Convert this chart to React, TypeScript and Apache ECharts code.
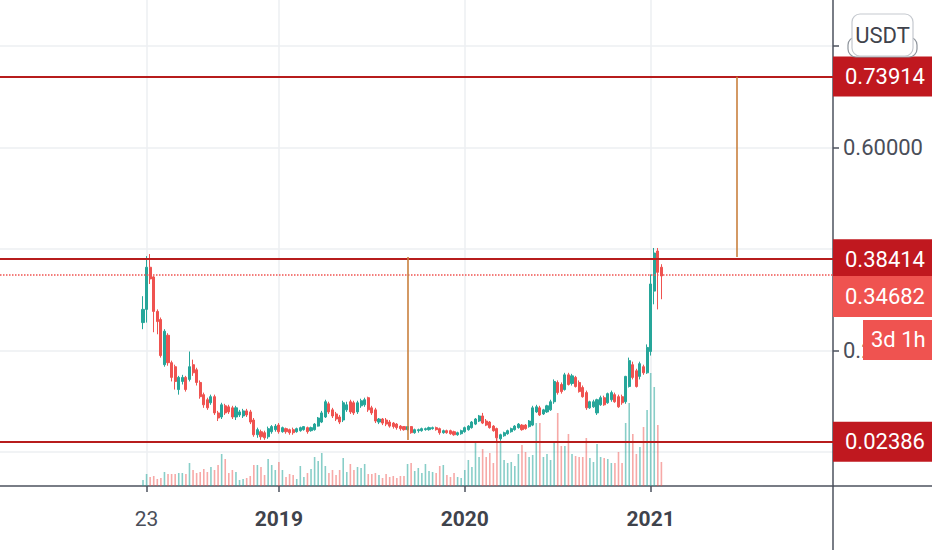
import React, { useEffect, useRef } from "react";
import * as echarts from "echarts";

// ---- categories: weekly bars ----
const weekCount = 234;
const firstWeekUTC = Date.UTC(2017, 6, 10); // Monday 2017-07-10
const firstCandleDate = "2018-04-16";
const tickLabels: Record<string, string> = {
  "2018-04-23": "23",
  "2019-01-07": "2019",
  "2020-01-06": "2020",
  "2021-01-04": "2021",
};

// ---- weekly candles [open, close, low, high] (USDT) ----
const ohlc: number[][] = [
  [0.255, 0.281, 0.242, 0.307], [0.281, 0.364, 0.255, 0.386], [0.364, 0.341, 0.331, 0.390], [0.345, 0.277, 0.236, 0.347],
  [0.277, 0.257, 0.232, 0.281], [0.261, 0.190, 0.186, 0.265], [0.172, 0.238, 0.168, 0.242], [0.230, 0.176, 0.170, 0.234],
  [0.176, 0.147, 0.139, 0.180], [0.168, 0.139, 0.123, 0.172], [0.123, 0.147, 0.113, 0.150], [0.139, 0.147, 0.133, 0.152],
  [0.147, 0.123, 0.119, 0.150], [0.143, 0.168, 0.139, 0.198], [0.172, 0.156, 0.150, 0.182], [0.162, 0.137, 0.131, 0.166],
  [0.137, 0.109, 0.105, 0.141], [0.113, 0.093, 0.087, 0.117], [0.103, 0.087, 0.083, 0.107], [0.097, 0.109, 0.093, 0.113],
  [0.109, 0.077, 0.073, 0.113], [0.077, 0.067, 0.061, 0.081], [0.069, 0.093, 0.065, 0.097], [0.091, 0.077, 0.073, 0.095],
  [0.089, 0.079, 0.075, 0.093], [0.087, 0.069, 0.065, 0.091], [0.069, 0.087, 0.063, 0.091], [0.073, 0.079, 0.069, 0.083],
  [0.071, 0.081, 0.067, 0.085], [0.081, 0.073, 0.069, 0.085], [0.079, 0.059, 0.055, 0.083], [0.063, 0.034, 0.030, 0.067],
  [0.034, 0.044, 0.028, 0.048], [0.040, 0.030, 0.024, 0.044], [0.038, 0.028, 0.024, 0.042], [0.030, 0.046, 0.026, 0.050],
  [0.040, 0.050, 0.036, 0.053], [0.044, 0.051, 0.040, 0.055], [0.053, 0.040, 0.036, 0.057], [0.040, 0.048, 0.038, 0.050],
  [0.046, 0.040, 0.036, 0.048], [0.044, 0.038, 0.034, 0.046], [0.044, 0.038, 0.034, 0.048], [0.040, 0.046, 0.038, 0.048],
  [0.042, 0.048, 0.040, 0.050], [0.044, 0.050, 0.042, 0.051], [0.048, 0.040, 0.036, 0.050], [0.042, 0.048, 0.040, 0.050],
  [0.044, 0.055, 0.042, 0.057], [0.051, 0.067, 0.050, 0.069], [0.059, 0.077, 0.057, 0.081], [0.069, 0.099, 0.067, 0.103],
  [0.095, 0.079, 0.075, 0.099], [0.083, 0.071, 0.067, 0.087], [0.075, 0.065, 0.061, 0.079], [0.069, 0.059, 0.055, 0.073],
  [0.063, 0.097, 0.059, 0.101], [0.083, 0.093, 0.079, 0.099], [0.099, 0.079, 0.075, 0.103], [0.097, 0.077, 0.073, 0.101],
  [0.079, 0.097, 0.075, 0.101], [0.091, 0.101, 0.087, 0.105], [0.093, 0.103, 0.089, 0.107], [0.107, 0.083, 0.079, 0.109],
  [0.087, 0.077, 0.073, 0.091], [0.083, 0.061, 0.057, 0.087], [0.059, 0.065, 0.055, 0.067], [0.065, 0.057, 0.053, 0.067],
  [0.063, 0.055, 0.051, 0.067], [0.059, 0.051, 0.048, 0.063], [0.057, 0.050, 0.046, 0.059], [0.055, 0.048, 0.044, 0.057],
  [0.051, 0.046, 0.042, 0.053], [0.050, 0.044, 0.042, 0.051], [0.044, 0.050, 0.042, 0.051], [0.050, 0.038, 0.036, 0.051],
  [0.038, 0.044, 0.036, 0.046], [0.042, 0.044, 0.038, 0.046], [0.042, 0.046, 0.040, 0.048], [0.044, 0.046, 0.042, 0.048],
  [0.044, 0.048, 0.042, 0.050], [0.046, 0.048, 0.044, 0.050], [0.048, 0.044, 0.042, 0.050], [0.046, 0.038, 0.034, 0.048],
  [0.038, 0.042, 0.036, 0.044], [0.042, 0.038, 0.036, 0.044], [0.042, 0.036, 0.034, 0.044], [0.040, 0.034, 0.032, 0.042],
  [0.034, 0.038, 0.032, 0.040], [0.036, 0.042, 0.034, 0.044], [0.040, 0.048, 0.038, 0.050], [0.044, 0.051, 0.042, 0.053],
  [0.048, 0.059, 0.046, 0.061], [0.055, 0.065, 0.053, 0.067], [0.061, 0.071, 0.059, 0.073], [0.071, 0.057, 0.055, 0.077],
  [0.061, 0.053, 0.051, 0.065], [0.059, 0.048, 0.046, 0.061], [0.051, 0.042, 0.040, 0.053], [0.046, 0.028, 0.018, 0.048],
  [0.026, 0.034, 0.022, 0.036], [0.032, 0.038, 0.030, 0.040], [0.036, 0.042, 0.034, 0.044], [0.040, 0.046, 0.038, 0.048],
  [0.044, 0.051, 0.042, 0.053], [0.048, 0.055, 0.046, 0.057], [0.053, 0.044, 0.042, 0.055], [0.053, 0.046, 0.044, 0.055],
  [0.050, 0.061, 0.048, 0.063], [0.053, 0.087, 0.051, 0.091], [0.079, 0.089, 0.077, 0.093], [0.087, 0.073, 0.071, 0.091],
  [0.075, 0.083, 0.073, 0.085], [0.079, 0.091, 0.077, 0.093], [0.083, 0.099, 0.081, 0.103], [0.099, 0.139, 0.095, 0.143],
  [0.137, 0.117, 0.113, 0.141], [0.133, 0.119, 0.115, 0.137], [0.123, 0.152, 0.121, 0.156], [0.152, 0.133, 0.131, 0.156],
  [0.135, 0.150, 0.131, 0.154], [0.147, 0.129, 0.127, 0.150], [0.137, 0.119, 0.117, 0.141], [0.127, 0.109, 0.107, 0.131],
  [0.117, 0.087, 0.083, 0.121], [0.087, 0.099, 0.085, 0.101], [0.089, 0.099, 0.087, 0.103], [0.077, 0.103, 0.073, 0.105],
  [0.093, 0.107, 0.091, 0.111], [0.107, 0.093, 0.091, 0.111], [0.097, 0.115, 0.095, 0.117], [0.103, 0.117, 0.099, 0.121],
  [0.113, 0.099, 0.097, 0.117], [0.109, 0.089, 0.087, 0.113], [0.109, 0.097, 0.093, 0.113], [0.099, 0.149, 0.095, 0.150],
  [0.129, 0.180, 0.127, 0.186], [0.172, 0.147, 0.143, 0.178], [0.160, 0.129, 0.127, 0.164], [0.149, 0.174, 0.143, 0.178],
  [0.168, 0.156, 0.152, 0.172], [0.156, 0.206, 0.154, 0.212], [0.198, 0.331, 0.190, 0.350], [0.317, 0.392, 0.291, 0.402],
  [0.396, 0.354, 0.281, 0.402], [0.364, 0.34682, 0.301, 0.370],
];

// ---- weekly volume (arbitrary units) ----
const volume: number[] = [
  6, 12, 9, 10, 7, 8, 14, 12, 12, 12, 13, 13, 12, 23, 16, 13, 14, 17, 14, 19,
  16, 21, 32, 27, 13, 16, 14, 6, 7, 8, 10, 21, 21, 19, 11, 27, 21, 16, 24, 16,
  9, 12, 11, 7, 20, 9, 13, 17, 29, 25, 33, 20, 13, 16, 11, 16, 28, 14, 22, 16,
  19, 18, 22, 12, 12, 13, 11, 8, 12, 9, 10, 8, 10, 10, 22, 23, 15, 18, 13, 22,
  15, 14, 13, 20, 21, 11, 9, 13, 9, 8, 16, 26, 19, 45, 29, 37, 29, 33, 23, 58,
  45, 26, 23, 24, 20, 32, 41, 34, 29, 31, 63, 63, 29, 32, 26, 44, 73, 40, 40, 52,
  32, 30, 29, 29, 48, 28, 24, 42, 29, 28, 27, 23, 23, 34, 23, 63, 83, 52, 32, 39,
  59, 76, 113, 99, 61, 24,
];

// ---- drawn levels ----
const levelLines = [0.73914, 0.38414, 0.02386];
const lastPrice = 0.34682;
const countdown = "3d 1h";
const quoteCurrency = "USDT";
const hiddenAxisLabels = [0.4, 0.8]; // covered by overlays in the reference
const measureLines: { date: string; from: number; to: number }[] = [
  { date: "2019-09-16", from: 0.38414, to: 0.02386 },
  { date: "2021-06-21", from: 0.73914, to: 0.38414 },
];

const FONT = "Roboto, 'Noto Sans', sans-serif";
const UP = "#26a69a";
const DOWN = "#ef5350";
const LEVEL = "#b71c1c";
const LEVEL_BOX = "#c0181f";
const AXIS = "#4c525e";
const GRIDC = "#eceff2";
const FS = 22;

export default function App() {
  const ref = useRef<HTMLDivElement>(null);

  useEffect(() => {
    document.body.style.margin = "0";
    if (!ref.current) return;
    const chart = echarts.init(ref.current, undefined, { renderer: "svg" });

    const categories = Array.from({ length: weekCount }, (_, i) =>
      new Date(firstWeekUTC + i * 7 * 86400000).toISOString().slice(0, 10)
    );
    const startIdx = categories.indexOf(firstCandleDate);
    const candleData: any[] = categories.map(() => "-");
    const volData: any[] = categories.map(() => "-");
    ohlc.forEach((row, i) => {
      candleData[startIdx + i] = row;
      const up = row[1] >= row[0];
      volData[startIdx + i] = {
        value: volume[i],
        itemStyle: { color: up ? "rgba(38,166,154,0.55)" : "rgba(239,83,80,0.5)" },
      };
    });
    const isTick = (idx: number) => tickLabels[categories[idx]] !== undefined;

    const levelMark = (v: number) => ({
      yAxis: v,
      lineStyle: { color: LEVEL, width: 2, type: "solid" },
      label: {
        show: true,
        position: "end",
        distance: 0,
        formatter: v.toFixed(5),
        color: "#ffffff",
        backgroundColor: LEVEL_BOX,
        fontFamily: FONT,
        fontSize: FS,
        width: 87,
        height: 24,
        lineHeight: 24,
        padding: [8, 0, 8, 12],
      },
    });

    const option: any = {
      animation: false,
      backgroundColor: "#ffffff",
      grid: [
        { left: 0, right: 99, top: 0, bottom: 64 },
        { left: 0, right: 99, top: 46, bottom: 98 },
      ],
      xAxis: [
        {
          type: "category",
          gridIndex: 0,
          data: categories,
          boundaryGap: false,
          axisLine: { onZero: false, lineStyle: { color: AXIS, width: 1.5 } },
          axisTick: { interval: (i: number) => isTick(i), length: 6, lineStyle: { color: AXIS, width: 1.5 } },
          axisLabel: {
            interval: (i: number) => isTick(i),
            margin: 22,
            formatter: (val: string) => {
              const t = tickLabels[val];
              return t.length === 4 ? `{y|${t}}` : `{d|${t}}`;
            },
            rich: {
              y: { fontFamily: FONT, fontSize: 21, fontWeight: "bold", color: "#3f434c" },
              d: { fontFamily: FONT, fontSize: 21, color: "#4a4e59" },
            },
          },
          splitLine: { show: true, interval: (i: number) => isTick(i), lineStyle: { color: GRIDC, width: 1.5 } },
        },
        {
          type: "category",
          gridIndex: 1,
          data: [""],
          show: false,
        },
      ],
      yAxis: [
        {
          type: "value",
          gridIndex: 0,
          position: "right",
          min: -0.067,
          max: 0.8906,
          axisLine: { show: true, onZero: false, lineStyle: { color: AXIS, width: 1.5 } },
          axisTick: { show: false },
          axisLabel: { show: false },
          splitLine: { show: false },
        },
        {
          type: "value",
          gridIndex: 0,
          position: "right",
          min: 0,
          max: 486,
          show: false,
        },
        {
          type: "value",
          gridIndex: 1,
          position: "right",
          min: 0,
          max: 0.8,
          interval: 0.2,
          axisLine: { show: false, onZero: false },
          axisTick: { show: true, length: 6, lineStyle: { color: AXIS, width: 1.5 } },
          axisLabel: {
            margin: 10,
            fontFamily: FONT,
            fontSize: FS,
            color: "#4a4e59",
            formatter: (v: number) =>
              hiddenAxisLabels.some((h) => Math.abs(h - v) < 1e-9) ? "" : v.toFixed(5),
          },
          splitLine: { show: true, lineStyle: { color: GRIDC, width: 1.5 } },
        },
      ],
      series: [
        {
          type: "bar",
          name: "Volume",
          xAxisIndex: 0,
          yAxisIndex: 1,
          data: volData,
          barWidth: 1.6,
          silent: true,
          z: 1,
        },
        {
          type: "candlestick",
          name: "Price",
          xAxisIndex: 0,
          yAxisIndex: 0,
          data: candleData,
          barWidth: 2.6,
          z: 3,
          itemStyle: { color: UP, color0: DOWN, borderColor: UP, borderColor0: DOWN, borderWidth: 1 },
          markLine: {
            silent: true,
            symbol: ["none", "none"],
            animation: false,
            z: 5,
            data: [
              ...levelLines.map(levelMark),
              {
                yAxis: lastPrice,
                lineStyle: { color: DOWN, width: 1.5, type: "dotted" },
                label: { show: false },
              },
              ...measureLines.map((m) => [
                { coord: [m.date, m.from], lineStyle: { color: "#c9803e", width: 1.6, type: "solid" }, label: { show: false } },
                { coord: [m.date, m.to] },
              ]),
            ],
          },
        },
        { type: "line", xAxisIndex: 1, yAxisIndex: 2, data: [], silent: true, showSymbol: false },
      ],
    };
    chart.setOption(option);

    const yLast = chart.convertToPixel({ yAxisIndex: 0 }, lastPrice) as number;
    const axisX = 833;
    const axisBottom = 486;
    chart.setOption({
      graphic: [
        { type: "line", z: 100, shape: { x1: axisX, y1: axisBottom, x2: axisX, y2: 550 }, style: { stroke: AXIS, lineWidth: 1.5 } },
        { type: "line", z: 100, shape: { x1: axisX, y1: axisBottom, x2: 932, y2: axisBottom }, style: { stroke: AXIS, lineWidth: 1.5 } },
        { type: "rect", z: 100, shape: { x: axisX, y: yLast, width: 99, height: 41 }, style: { fill: DOWN } },
        {
          type: "text", z: 101, x: 845, y: yLast + 21,
          style: { text: lastPrice.toFixed(5), fill: "#ffffff", font: `${FS}px ${FONT}`, verticalAlign: "middle", align: "left" },
        },
        { type: "rect", z: 100, shape: { x: 863, y: yLast + 44, width: 69, height: 40 }, style: { fill: DOWN } },
        {
          type: "text", z: 101, x: 871, y: yLast + 64,
          style: { text: countdown, fill: "#ffffff", font: `${FS}px ${FONT}`, verticalAlign: "middle", align: "left" },
        },
        { type: "rect", z: 102, shape: { x: 848, y: 37, width: 69, height: 20, r: 8 }, style: { fill: "#ffffff", stroke: "#8e949c", lineWidth: 1.2 } },
        { type: "rect", z: 103, shape: { x: 852, y: 14, width: 61, height: 42, r: 8 }, style: { fill: "#ffffff", stroke: "#c5c9cf", lineWidth: 1.2 } },
        {
          type: "text", z: 104, x: 882.5, y: 35,
          style: { text: quoteCurrency, fill: "#3f434c", font: `22px ${FONT}`, verticalAlign: "middle", align: "center" },
        },
      ],
    });

    return () => chart.dispose();
  }, []);

  return <div ref={ref} style={{ width: 932, height: 550 }} />;
}
